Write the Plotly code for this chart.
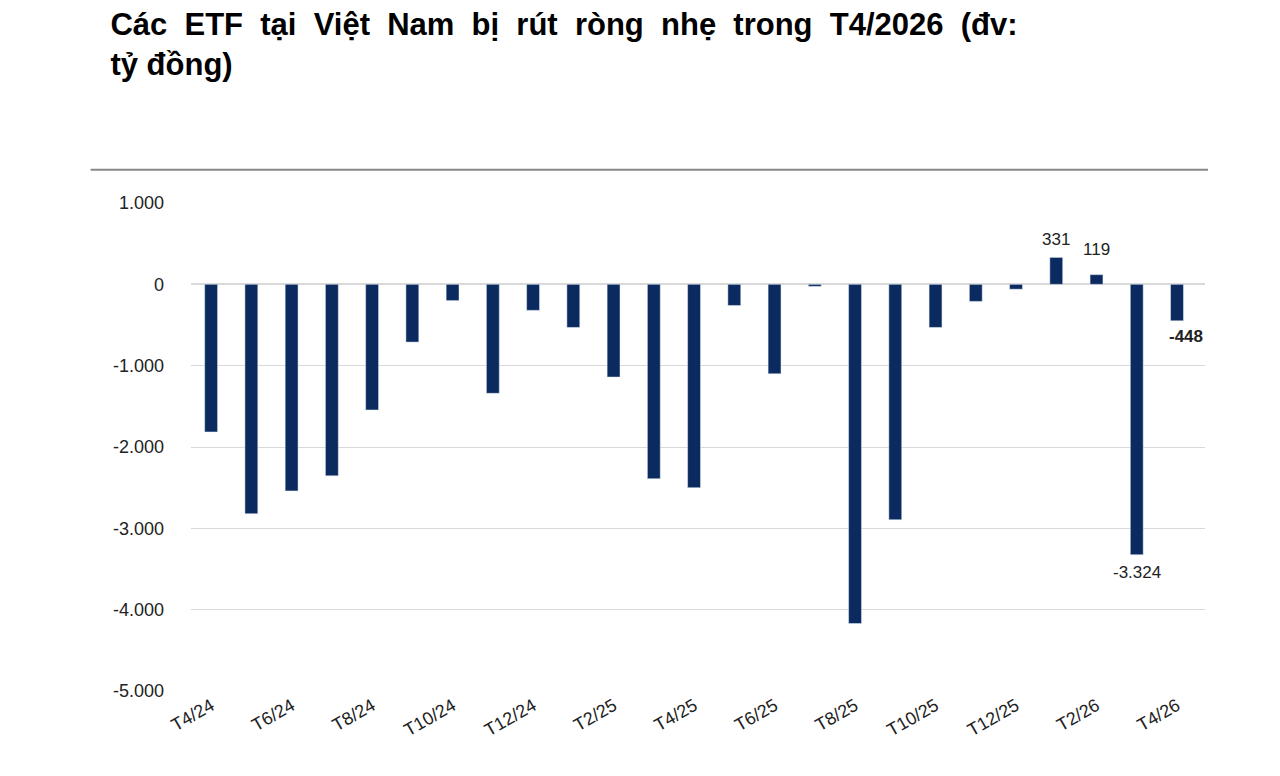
import plotly.graph_objects as go

months = ["T4/24", "T5/24", "T6/24", "T7/24", "T8/24", "T9/24", "T10/24", "T11/24", "T12/24",
          "T1/25", "T2/25", "T3/25", "T4/25", "T5/25", "T6/25", "T7/25", "T8/25", "T9/25",
          "T10/25", "T11/25", "T12/25", "T1/26", "T2/26", "T3/26", "T4/26"]
flows = [-1815, -2820, -2540, -2355, -1545, -710, -200, -1340, -320,
         -530, -1140, -2390, -2500, -260, -1100, -25, -4170, -2895,
         -530, -210, -60, 331, 119, -3324, -448]
tick_months = months[::2]
yticks = [1000, 0, -1000, -2000, -3000, -4000, -5000]
ytext = ["1.000", "0", "-1.000", "-2.000", "-3.000", "-4.000", "-5.000"]

fig = go.Figure(go.Bar(x=months, y=flows, marker_color="#0b2a5f", width=0.32))

# data labels on the last few bars
font = dict(family="Arial", size=17, color="#222")
fig.add_annotation(x="T1/26", y=331, text="331", showarrow=False, yanchor="bottom", yshift=6, font=font)
fig.add_annotation(x="T2/26", y=119, text="119", showarrow=False, yanchor="bottom", yshift=14, font=font)
fig.add_annotation(x="T3/26", y=-3324, text="-3.324", showarrow=False, yanchor="top", yshift=-6, font=font)
fig.add_annotation(x="T4/26", y=-448, text="<b>-448</b>", showarrow=False, xanchor="left", xshift=-10,
                   yanchor="top", yshift=-4, font=font)

fig.add_shape(type="line", xref="paper", yref="paper", x0=-0.099, x1=1.003, y0=1.068, y1=1.068,
              line=dict(color="#888", width=2))

fig.update_layout(
    width=1280, height=776,
    paper_bgcolor="white", plot_bgcolor="white",
    margin=dict(l=183, r=83, t=195, b=93),
    showlegend=False,
    bargap=0.7,
    title=dict(text="<b>Các  ETF  tại  Việt  Nam  bị  rút  ròng  nhẹ  trong  T4/2026  (đv:<br>tỷ đồng)</b>",
               x=0.08, xanchor="left", y=0.965, yanchor="top",
               font=dict(family="Arial", size=31, color="black")),
    font=dict(family="Arial", size=18, color="#222"),
)
fig.update_xaxes(tickmode="array", tickvals=tick_months, ticktext=tick_months, tickangle=-30,
                 showgrid=False, showline=False, ticks="")
fig.update_yaxes(range=[-5000, 1000], tickvals=yticks, ticktext=ytext, showgrid=True,
                 gridcolor="#d9d9d9", gridwidth=1, zeroline=True, zerolinecolor="#d9d9d9",
                 ticklabelstandoff=26)

fig.write_html("out.html")
